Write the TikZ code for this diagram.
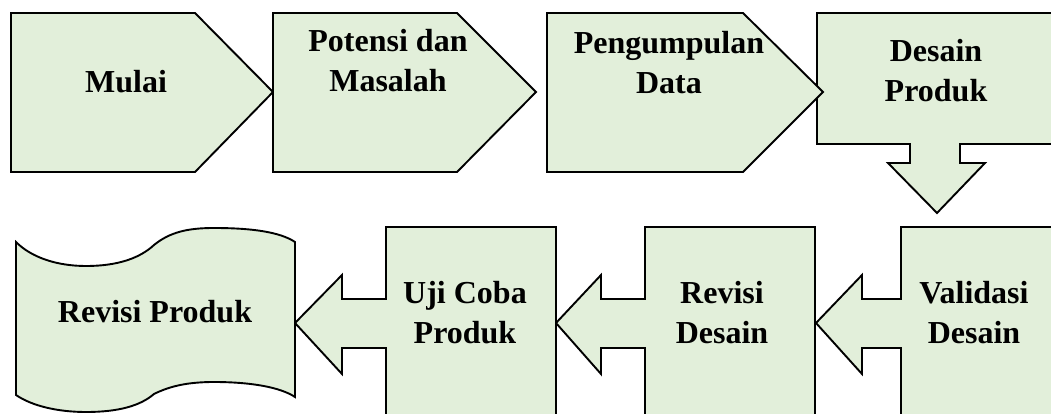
\documentclass[tikz,border=0pt]{standalone}
\usepackage{fontspec}
\setmainfont{Liberation Serif}
\begin{document}
\begin{tikzpicture}[x=1pt,y=-1pt,
  shp/.style={draw=black,line width=1.9pt,fill=boxfill,line join=miter},
  lbl/.style={font=\fontsize{32}{40}\selectfont\bfseries,align=center,inner sep=0pt,anchor=base}]
\definecolor{boxfill}{HTML}{E2EFDA}
\useasboundingbox (0,0) rectangle (1051,414);
\clip (0,0) rectangle (1051,414);
% top row
\draw[shp] (11,13) -- (195,13) -- (273,92) -- (195,172) -- (11,172) -- cycle;
\draw[shp] (273,13) -- (457,13) -- (536,92) -- (457,172) -- (273,172) -- cycle;
\draw[shp] (817,13) -- (1060,13) -- (1060,144) -- (960,144) -- (960,163) -- (985,163) -- (937,213) -- (888,163) -- (910,163) -- (910,144) -- (817,144) -- cycle;
\draw[shp] (547,13) -- (743,13) -- (823,92) -- (743,172) -- (547,172) -- cycle;
% bottom row
\draw[shp] (1060,227) -- (901,227) -- (901,299) -- (862,299) -- (862,275) -- (816,323) -- (862,374) -- (862,348) -- (901,348) -- (901,430) -- (1060,430) -- cycle;
\draw[shp] (815,227) -- (645,227) -- (645,299) -- (601,299) -- (601,275) -- (556,323) -- (601,374) -- (601,348) -- (645,348) -- (645,430) -- (815,430) -- cycle;
\draw[shp] (556,227) -- (386,227) -- (386,299) -- (342,299) -- (342,275) -- (295,323) -- (342,374) -- (342,348) -- (386,348) -- (386,430) -- (556,430) -- cycle;
\draw[shp] (16,242) .. controls (32,258) and (58,266) .. (86,266)
  .. controls (118,266) and (140,258) .. (154,245)
  .. controls (170,232) and (188,228) .. (214,228)
  .. controls (252,228) and (280,232) .. (295,242)
  -- (295,397)
  .. controls (280,387) and (250,382) .. (214,382)
  .. controls (188,382) and (170,386) .. (154,394)
  .. controls (140,406) and (118,412) .. (86,412)
  .. controls (58,412) and (32,406) .. (16,395) -- cycle;
% labels
\node[lbl] (mulai) at (126,93) {Mulai};
\node[lbl] (potensi) at (388,92) {Potensi dan\\Masalah};
\node[lbl] (data) at (669,94) {Pengumpulan\\Data};
\node[lbl] (desain) at (936,102) {Desain\\Produk};
\node[lbl] (validasi) at (974,343) {Validasi\\Desain};
\node[lbl] (revdes) at (722,343) {Revisi\\Desain};
\node[lbl] (uji) at (465,343) {Uji Coba\\Produk};
\node[lbl] (revprod) at (155,322) {Revisi Produk};
\end{tikzpicture}
\end{document}
